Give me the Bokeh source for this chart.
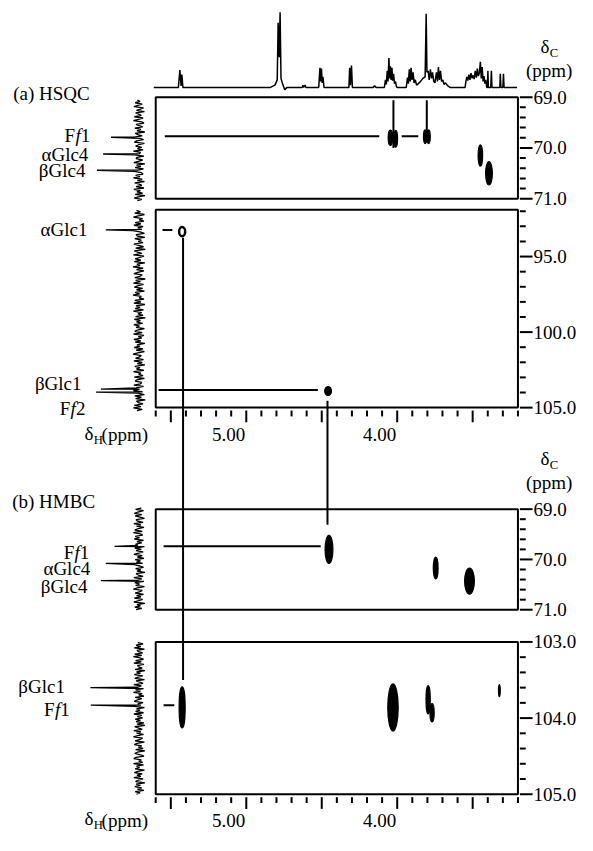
import numpy as np
from bokeh.plotting import figure
from bokeh.models import Range1d
from bokeh.core.properties import value
from bokeh.embed import file_html
from bokeh.resources import INLINE

# ============================ DATA ============================
# proton window shared by the 2D panels (ppm) and its scale
dh_window = [5.6, 3.2]
dh_major = [5.5, 5.0, 4.5, 4.0, 3.5]
dh_minor = [5.6, 5.4, 5.3, 5.2, 5.1, 4.9, 4.8, 4.7, 4.6, 4.4, 4.3, 4.2, 4.1,
            3.9, 3.8, 3.7, 3.6, 3.4, 3.3, 3.2]
dh_label_vals = [5.0, 4.0]
dh_label_text = ["5.00", "4.00"]

# 1H spectrum on top (ppm, relative intensity)
h1_ppm = [5.613, 5.45, 5.44, 5.432, 5.427, 5.42,
          4.84, 4.81, 4.795, 4.789, 4.782, 4.776, 4.77, 4.76, 4.745, 4.73,
          4.63, 4.625, 4.62, 4.61, 4.605,
          4.52, 4.512, 4.507, 4.502, 4.497, 4.492, 4.485,
          4.32, 4.315, 4.31, 4.303, 4.297,
          4.16, 4.15, 4.14,
          4.085, 4.078, 4.072, 4.066, 4.061, 4.055, 4.05, 4.045, 4.04, 4.035, 4.03,
          4.024, 4.018, 4.012, 4.005, 4.0,
          3.94, 3.932, 3.926, 3.92, 3.914, 3.908, 3.902, 3.895, 3.888, 3.88, 3.872,
          3.86, 3.845, 3.83, 3.815, 3.808, 3.803, 3.795, 3.788, 3.78, 3.773, 3.766,
          3.758, 3.75, 3.74, 3.733, 3.727, 3.72, 3.713, 3.706, 3.698, 3.69, 3.68,
          3.665, 3.65,
          3.55, 3.545, 3.538, 3.532, 3.525, 3.518, 3.511, 3.504, 3.497, 3.49, 3.483,
          3.476, 3.469, 3.462, 3.455, 3.449, 3.443, 3.437, 3.431, 3.425, 3.419,
          3.413, 3.407,
          3.402, 3.399, 3.396, 3.38, 3.376, 3.372, 3.32, 3.317, 3.313, 3.30, 3.296,
          3.292, 3.206]
h1_int = [0, 0, 23, 2, 17, 0,
          0, 3, 10, 86, 40, 100, 12, 5, -3, 0,
          0, 3, 0, 3, 0,
          0, 26, 8, 25, 6, 14, 0,
          0, 26, 3, 29, 0,
          0, 2, 0,
          0, 10, 4, 22, 8, 39, 12, 28, 10, 26, 9,
          18, 5, 8, 1, 0,
          0, 13, 5, 24, 8, 26, 10, 20, 6, 10, 3,
          5, 8, 12, 14, 98, 20, 22, 10, 24, 12, 20,
          8, 6, 20, 8, 27, 10, 22, 8, 10, 4, 6,
          2, 0,
          0, 8, 14, 9, 17, 10, 19, 12, 16, 11, 22,
          13, 25, 15, 20, 34, 12, 27, 8, 15, 5,
          10, 0,
          0, 22, 0, 0, 22, 0, 0, 18, 0, 0, 18,
          0, 0]

# carbon windows of the four 2D panels
hsqc1_window = [69.0, 71.0]
hsqc2_window = [91.9, 105.0]
hmbc1_window = [69.0, 71.0]
hmbc2_window = [103.0, 105.0]

# carbon axis ticks
c69_major = [69.0, 70.0, 71.0]
c69_labels = ["69.0", "70.0", "71.0"]
c69_minor = [69.2, 69.4, 69.6, 69.8, 70.2, 70.4, 70.6, 70.8]
c92_major = [95.0, 100.0, 105.0]
c92_labels = ["95.0", "100.0", "105.0"]
c92_minor = [92.0, 93.0, 94.0, 96.0, 97.0, 98.0, 99.0, 101.0, 102.0, 103.0, 104.0]
c103_major = [103.0, 104.0, 105.0]
c103_labels = ["103.0", "104.0", "105.0"]
c103_minor = [103.2, 103.4, 103.6, 103.8, 104.2, 104.4, 104.6, 104.8]

# 13C projections on the left (span, noise, peaks)
hsqc1_proj_span = [69.06, 71.04]
hsqc1_noise = [4, -2, 9, -7, 3, 12, -10, -3, 6, -12, 8, 1, -5, 11, -9, 2, 13, -6, -11, 7,
               0, -8, 10, -4, 5, -13, 9, 3, -7, 12, -2, -10, 6, 11, -12, 1, 8, -6, 4, -9,
               13, -3, -1, 10, -11, 5, 7, -8, 2, 12, -13, 6, -4, 9, -10, 3, 11, -5, -9, 8,
               -2, 13, -7, 4, -12, 10, 0, -6, 7, -11, 12, -3, 5, -8, 9, -13, 2, 11, -6, 4]
hsqc1_names = ["Ff1", "αGlc4", "βGlc4"]
hsqc1_proj_ppm = [69.79, 70.12, 70.44]
hsqc1_proj_int = [64, 82, 96]

hsqc2_proj_span = [91.95, 105.2]
hsqc2_noise = [6, -3, 10, -12, 2, 13, -8, 0, -11, 9, -4, 12, -9, 3, -6, 14, -2, -12, 7, 4,
               -13, 10, -5, 2, -9, 12, 1, -10, 8, -14, 11, 3, -6, 13, -11, -1, 9, -4, 11, -13,
               5, -2, 14, -9, 6, -11, 3, 12, -7, -2, 10, -14, 8, -3, 13, -10, 2, 11, -8, 6,
               -12, 9, -1, 14, -5, 0, -11, 10, -4, 12, -13, 7, -2, 9, -10, 13, -6, 3, -9, 8,
               -14, 11, -3, 6, -8, 12, -1, 7, -12, 4, 10, -7, 13, -11, 2, -6, 12, -4, 9, -13,
               5, -2, 11, -9, 7, -12, 3, 14, -5, -1, 8, -10, 12, -7, 4, -13, 10, -2, 6, -11,
               13, -4, 1, -9, 11, -12, 5, 9, -6, -3, 12, -10, 7, -1, 13, -8, 3, -12, 10, -5,
               8, -14, 6, 2, -9, 11, -4, 13, -7, 5]
hsqc2_names = ["αGlc1", "βGlc1", "Ff2"]
hsqc2_proj_ppm = [93.24, 103.77, 103.97]
hsqc2_proj_int = [76, 87, 98]

hmbc1_proj_span = [68.98, 71.0]
hmbc1_noise = [-5, 8, -10, 3, 11, -6, 9, -2, -12, 7, 4, -9, 12, -4, 6, -11, 2, 10, -7, 13,
               -3, -8, 9, -1, 11, -10, 5, -6, 8, 3, -12, 10, -5, 7, -9, 1, 12, -7, 4, -11,
               9, -3, 6, -8, 11, -2, -10, 8, -4, 5, -13, 7, 2, -9, 12, -6, 3, -11, 10, -1,
               8, -12, 4, 13, -7, -2, 9, -10, 6, -4, 11, -8, 1, 12, -13, 5, -3, 10, -6, 7]
hmbc1_names = ["Ff1", "αGlc4", "βGlc4"]
hmbc1_proj_ppm = [69.74, 70.08, 70.42]
hmbc1_proj_int = [56, 76, 87]

hmbc2_proj_span = [103.01, 105.0]
hmbc2_noise = [3, -9, 7, -4, 11, -12, 5, 2, -8, 10, -6, 13, -2, -10, 8, -5, 12, -11, 4, 1,
               -7, 9, -13, 6, -3, 11, -8, 2, 10, -12, 7, -1, -9, 12, -5, 4, -10, 8, -3, 13,
               -7, 1, -11, 9, -6, 5, 11, -9, 3, -4, 10, -12, 6, -2, 8, -10, 12, -6, 4, -8,
               9, -3, 7, -11, 5, -13, 10, 1, -7, 12, -4, 6, -10, 3, 13, -8, -2, 9, -12, 5,
               11, -6, 2, -9, 8, -13, 4, 10, -3, -11, 7, 12, -5, 1, -8, 13, -10, 6, -1, 9,
               -12, 3, 11, -7, 5, -4, 12, -9, 2, 8, -13, 7, -3, 10, -6, 4, -11, 9, -2, 6]
hmbc2_names = ["βGlc1", "Ff1"]
hmbc2_proj_ppm = [103.60, 103.83]
hmbc2_proj_int = [111, 110]

# 2D cross peaks: dH, dC, extent in dH, extent in dC, open contour?
hsqc1_pk_h = [4.045, 4.01, 3.815, 3.792, 3.449, 3.392]
hsqc1_pk_c = [69.80, 69.82, 69.78, 69.78, 70.15, 70.50]
hsqc1_pk_wh = [0.03, 0.025, 0.022, 0.022, 0.03, 0.045]
hsqc1_pk_wc = [0.30, 0.33, 0.27, 0.27, 0.42, 0.46]
hsqc1_pk_open = [False, False, False, False, False, False]

hsqc2_pk_h = [5.425, 4.458]
hsqc2_pk_c = [93.35, 103.90]
hsqc2_pk_wh = [0.04, 0.045]
hsqc2_pk_wc = [0.60, 0.60]
hsqc2_pk_open = [True, False]

hmbc1_pk_h = [4.452, 3.745, 3.521]
hmbc1_pk_c = [69.80, 70.17, 70.43]
hmbc1_pk_wh = [0.052, 0.032, 0.065]
hmbc1_pk_wc = [0.56, 0.43, 0.52]
hmbc1_pk_open = [False, False, False]

hmbc2_pk_h = [5.425, 4.028, 3.795, 3.769, 3.323]
hmbc2_pk_c = [103.86, 103.86, 103.76, 103.93, 103.64]
hmbc2_pk_wh = [0.04, 0.069, 0.028, 0.028, 0.012]
hmbc2_pk_wc = [0.54, 0.62, 0.37, 0.24, 0.16]
hmbc2_pk_open = [False, False, False, False, False]

# assignment guide lines inside the panels (dH0, dC0, dH1, dC1)
hsqc1_guide = {"h0": [5.54, 3.970, 4.025, 3.804], "c0": [69.77, 69.77, 69.06, 69.06],
               "h1": [4.119, 3.860, 4.025, 3.804], "c1": [69.77, 69.77, 70.0, 69.9]}
hsqc2_guide = {"h0": [5.555, 5.581], "c0": [93.24, 103.84],
               "h1": [5.490, 4.526], "c1": [93.24, 103.84]}
hmbc1_guide = {"h0": [5.548], "c0": [69.74], "h1": [4.507], "c1": [69.74]}
hmbc2_guide = {"h0": [5.548], "c0": [103.83], "h1": [5.477], "c1": [103.83]}

# links HSQC -> HMBC (dH, start dC in HSQC 92-105 panel, target panel, end dC)
link_h = [5.419, 4.462]
link_from_c = [93.75, 104.55]
link_to_panel = ["hmbc2", "hmbc1"]
link_to_c = [103.5, 69.31]

# ============================ LAYOUT ============================
W, H = 577, 835
S = 577.0 / 591.0            # canvas px per layout unit
FONT = value("Liberation Serif")
FS = "%.1fpx" % (19.5 * S)
SUB = "%.1fpx" % (13.0 * S)
RX0, RX1 = 0.0, W / S        # layout units at canvas left / right
RY0, RY1 = 0.0, H / S        # layout units at canvas top / bottom
PX_L, PX_R = 159.0, 530.0    # panels left / right edge


def lin(v0, p0, v1, p1, p):
    return v0 + (p - p0) * (v1 - v0) / (p1 - p0)


def rng(v0, p0, v1, p1, a, b):
    return Range1d(start=lin(v0, p0, v1, p1, a), end=lin(v0, p0, v1, p1, b))


panels = {
    "hsqc1": (hsqc1_window, 99.0, 203.0),
    "hsqc2": (hsqc2_window, 214.3, 417.0),
    "hmbc1": (hmbc1_window, 521.0, 624.0),
    "hmbc2": (hmbc2_window, 657.0, 813.0),
}

p = figure(width=W, height=H,
           x_range=rng(dh_window[0], PX_L, dh_window[1], PX_R, RX0, RX1),
           y_range=Range1d(start=RY1, end=RY0),
           output_backend="svg", toolbar_location=None, min_border=0,
           x_axis_location=None, y_axis_location=None,
           outline_line_color=None, background_fill_color="white",
           border_fill_color="white")
p.grid.visible = False

p.extra_x_ranges = {"px": Range1d(start=RX0, end=RX1),
                    "proj": rng(0, 142.0, 100, 97.0, RX0, RX1)}
yr = {"h1": rng(0, 89.0, 100, 12.0, RY1, RY0)}
for nm, (win, ptop, pbot) in panels.items():
    yr[nm] = rng(win[0], ptop, win[1], pbot, RY1, RY0)
p.extra_y_ranges = yr


def to_px(nm, v):
    win, ptop, pbot = panels[nm]
    return lin(ptop, win[0], pbot, win[1], v)


TXT = dict(text_font=FONT, text_font_size=FS, text_color="black")
SUBTXT = dict(text_font=FONT, text_font_size=SUB, text_color="black")
LW = 2.0

# ---- top 1H spectrum
p.line(h1_ppm, h1_int, y_range_name="h1", line_color="black", line_width=1.5)

# ---- panel frames
for nm, (win, ptop, pbot) in panels.items():
    p.quad(left=[dh_window[0]], right=[dh_window[1]], top=[win[0]], bottom=[win[1]],
           y_range_name=nm, fill_color=None, line_color="black", line_width=LW)

# ---- right carbon axes
axis_specs = {"hsqc1": (c69_major, c69_labels, c69_minor),
              "hsqc2": (c92_major, c92_labels, c92_minor),
              "hmbc1": (c69_major, c69_labels, c69_minor),
              "hmbc2": (c103_major, c103_labels, c103_minor)}
for nm, (maj, labs, mnr) in axis_specs.items():
    p.segment(x0=[PX_R + 2] * len(mnr), x1=[PX_R + 8] * len(mnr), y0=mnr, y1=mnr,
              x_range_name="px", y_range_name=nm, line_color="black", line_width=LW)
    p.segment(x0=[PX_R + 2] * len(maj), x1=[PX_R + 15] * len(maj), y0=maj, y1=maj,
              x_range_name="px", y_range_name=nm, line_color="black", line_width=LW)
    p.text(x=[PX_R + 16] * len(maj), y=maj, text=labs, x_range_name="px",
           y_range_name=nm, text_align="left", text_baseline="middle", **TXT)

# ---- bottom proton axes
xlab_y = {"hsqc2": 445.0, "hmbc2": 840.0}
for nm, ly in xlab_y.items():
    pb = panels[nm][2]
    p.segment(x0=dh_minor, x1=dh_minor, y0=[pb + 3] * len(dh_minor),
              y1=[pb + 9] * len(dh_minor), line_color="black", line_width=LW)
    p.segment(x0=dh_major, x1=dh_major, y0=[pb + 3] * len(dh_major),
              y1=[pb + 15] * len(dh_major), line_color="black", line_width=LW)
    p.text(x=dh_label_vals, y=[ly] * len(dh_label_vals), text=dh_label_text,
           text_align="right", text_baseline="middle", x_offset=-1, **TXT)
    p.text(x=[86], y=[ly - 2], text=["δ"], x_range_name="px", text_align="left",
           text_baseline="middle", **TXT)
    p.text(x=[95.5], y=[ly + 5], text=["H"], x_range_name="px", text_align="left",
           text_baseline="middle", **SUBTXT)
    p.text(x=[103.5], y=[ly], text=["(ppm)"], x_range_name="px", text_align="left",
           text_baseline="middle", **TXT)

# ---- delta C labels above the right axes
for nm in ["hsqc1", "hmbc1"]:
    yt = panels[nm][1]
    p.text(x=[553], y=[yt - 52], text=["δ"], x_range_name="px", text_align="left",
           text_baseline="middle", **TXT)
    p.text(x=[562.5], y=[yt - 45], text=["C"], x_range_name="px", text_align="left",
           text_baseline="middle", **SUBTXT)
    p.text(x=[562], y=[yt - 27], text=["(ppm)"], x_range_name="px", text_align="center",
           text_baseline="middle", **TXT)

# ---- panel titles
p.text(x=[13], y=[95], text=["(a) HSQC"], x_range_name="px", text_align="left",
       text_baseline="middle", **TXT)
p.text(x=[12], y=[513], text=["(b) HMBC"], x_range_name="px", text_align="left",
       text_baseline="middle", **TXT)

# ---- left projections and their labels
traces = {
    "hsqc1": (hsqc1_proj_span, hsqc1_noise, hsqc1_proj_ppm, hsqc1_proj_int, hsqc1_names),
    "hsqc2": (hsqc2_proj_span, hsqc2_noise, hsqc2_proj_ppm, hsqc2_proj_int, hsqc2_names),
    "hmbc1": (hmbc1_proj_span, hmbc1_noise, hmbc1_proj_ppm, hmbc1_proj_int, hmbc1_names),
    "hmbc2": (hmbc2_proj_span, hmbc2_noise, hmbc2_proj_ppm, hmbc2_proj_int, hmbc2_names),
}
label_right = {"hsqc1": [92, 90, 87], "hsqc2": [89, 83, 87],
               "hmbc1": [91, 92, 89], "hmbc2": [66, 71]}
label_dy = {"hsqc1": [-2, 0, 0], "hsqc2": [0, -6, 17],
            "hmbc1": [6, 5, 6], "hmbc2": [-1, 4]}


def put_label(name, xr, yv, nm, dy):
    common = dict(x_range_name="px", y_range_name=nm, text_baseline="middle",
                  text_align="right", y_offset=dy * S, **TXT)
    if name.startswith("Ff"):
        p.text(x=[xr], y=[yv], text=[name[2:]], **common)
        p.text(x=[xr], y=[yv], text=["f"], x_offset=-9.8 * S,
               text_font_style="italic", **common)
        p.text(x=[xr], y=[yv], text=["F"], x_offset=-15.5 * S, **common)
    else:
        p.text(x=[xr], y=[yv], text=[name], **common)


for nm, (span, noise, pk_ppm, pk_int, names) in traces.items():
    grid = np.linspace(span[0], span[1], len(noise))
    pts = sorted(list(zip(grid, noise)) + list(zip(pk_ppm, pk_int)))
    p.line(x=[b for a, b in pts], y=[a for a, b in pts], x_range_name="proj",
           y_range_name=nm, line_color="black", line_width=1.3)
    for name, v, xr, dy in zip(names, pk_ppm, label_right[nm], label_dy[nm]):
        put_label(name, xr, v, nm, dy)

# ---- guide lines
guides = {"hsqc1": hsqc1_guide, "hsqc2": hsqc2_guide,
          "hmbc1": hmbc1_guide, "hmbc2": hmbc2_guide}
for nm, g in guides.items():
    p.segment(x0=g["h0"], y0=g["c0"], x1=g["h1"], y1=g["c1"], y_range_name=nm,
              line_color="black", line_width=LW)

# ---- links between the HSQC and HMBC panels
p.segment(x0=link_h, x1=link_h,
          y0=[to_px("hsqc2", v) for v in link_from_c],
          y1=[to_px(pn, v) for pn, v in zip(link_to_panel, link_to_c)],
          line_color="black", line_width=LW)

# ---- cross peaks
peaks = {"hsqc1": (hsqc1_pk_h, hsqc1_pk_c, hsqc1_pk_wh, hsqc1_pk_wc, hsqc1_pk_open),
         "hsqc2": (hsqc2_pk_h, hsqc2_pk_c, hsqc2_pk_wh, hsqc2_pk_wc, hsqc2_pk_open),
         "hmbc1": (hmbc1_pk_h, hmbc1_pk_c, hmbc1_pk_wh, hmbc1_pk_wc, hmbc1_pk_open),
         "hmbc2": (hmbc2_pk_h, hmbc2_pk_c, hmbc2_pk_wh, hmbc2_pk_wc, hmbc2_pk_open)}
for nm, (hx, cy, wh, wc, op) in peaks.items():
    p.ellipse(x=hx, y=cy, width=wh, height=wc, y_range_name=nm,
              fill_color=["white" if o else "black" for o in op],
              line_color="black", line_width=[2.5 if o else 1.2 for o in op])

open("out.html", "w").write(file_html(p, INLINE))
